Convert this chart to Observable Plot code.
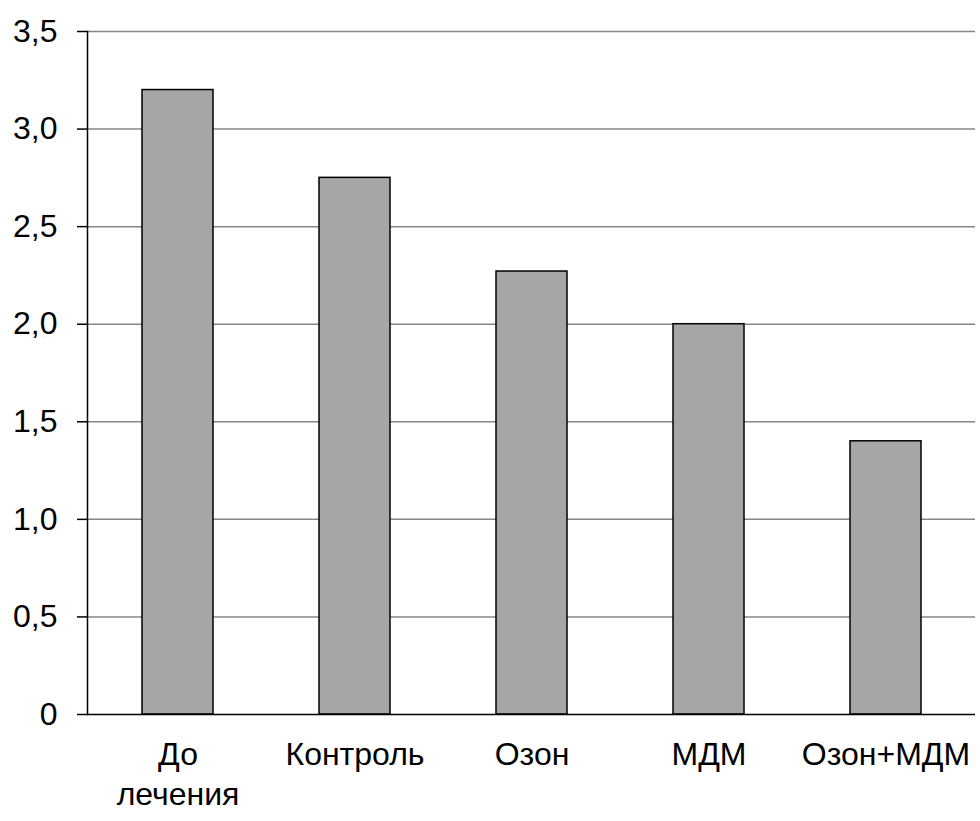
<!DOCTYPE html>
<html>
<head>
<meta charset="utf-8">
<script src="https://cdn.jsdelivr.net/npm/d3@7"></script>
<script src="https://cdn.jsdelivr.net/npm/@observablehq/plot@0.6"></script>
<style>
  html, body { margin: 0; padding: 0; background: #fff; }
  #chart svg { display: block; }
</style>
</head>
<body>
<div id="chart"></div>
<script>
const categories = ["До\nлечения", "Контроль", "Озон", "МДМ", "Озон+МДМ"];
const values = [3.2, 2.75, 2.27, 2.0, 1.4];
const yTicks = [0, 0.5, 1.0, 1.5, 2.0, 2.5, 3.0, 3.5];

const data = categories.map((c, i) => ({category: c, value: values[i]}));
const fmt = v => v === 0 ? "0" : v.toFixed(1).replace(".", ",");

const chart = Plot.plot({
  width: 980,
  height: 821,
  marginLeft: 87,
  marginRight: 5,
  marginTop: 31,
  marginBottom: 107,
  style: {fontFamily: "'Liberation Sans', Arial, sans-serif", fontSize: "32px", color: "#000", background: "#fff"},
  x: {domain: categories, paddingInner: 0.6, paddingOuter: 0.3, align: 0.5, label: null},
  y: {domain: [0, 3.5], label: null},
  marks: [
    Plot.gridY(yTicks.filter(t => t > 0), {stroke: "#868686", strokeOpacity: 1, strokeWidth: 1.5}),
    Plot.axisY({ticks: yTicks, tickFormat: fmt, tickSize: 10, tickPadding: 20, fontSize: 32, stroke: "#000", strokeWidth: 1.5, label: null}),
    Plot.barY(data, {x: "category", y: "value", fill: "#a6a6a6", stroke: "#000", strokeWidth: 1.5}),
    Plot.ruleY([0], {stroke: "#000", strokeWidth: 1.5}),
    Plot.axisX({tickSize: 0, tickPadding: 22, fontSize: 32, lineHeight: 1.25, label: null}),
    Plot.frame({anchor: "left", stroke: "#000", strokeWidth: 1.5})
  ]
});
document.getElementById("chart").appendChild(chart);
</script>
</body>
</html>
